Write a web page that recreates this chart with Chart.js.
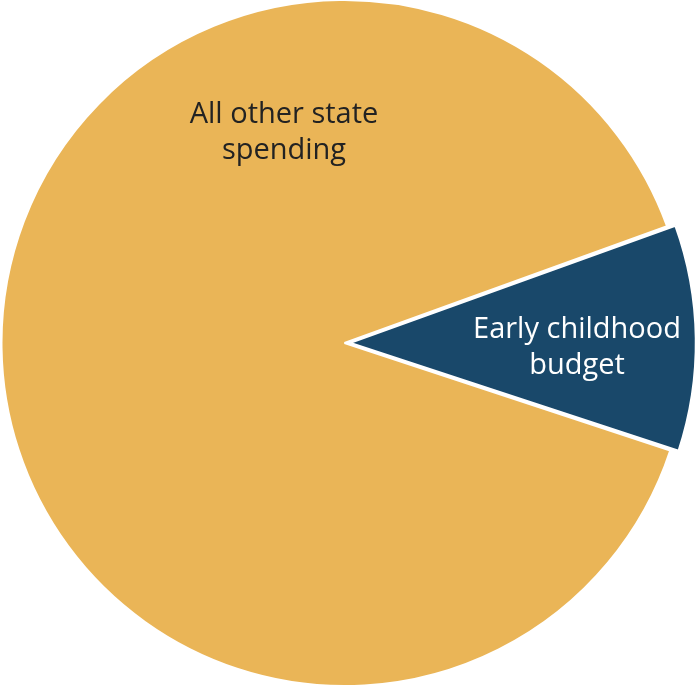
<!DOCTYPE html>
<html>
<head>
<meta charset="utf-8">
<script src="https://cdn.jsdelivr.net/npm/chart.js@4/dist/chart.umd.min.js"></script>
<style>
  html, body { margin: 0; padding: 0; background: #fff; }
  #wrap { width: 698px; height: 686px; position: relative; }
</style>
</head>
<body>
<div id="wrap"><canvas id="pie"></canvas></div>
<script>
  var categories = ['Early childhood budget', 'All other state spending'];
  var shares = [10.6, 89.4];
  var sliceColors = ['#19486a', '#eab557'];
  var labelLines = [['Early childhood', 'budget'], ['All other state', 'spending']];

  // text labels placed inside slices
  var sliceLabels = {
    id: 'sliceLabels',
    afterDatasetsDraw: function (chart) {
      var ctx = chart.ctx;
      var pos = [{ x: 577, y: 330, color: '#ffffff' }, { x: 284, y: 115, color: '#222222' }];
      ctx.save();
      ctx.font = '29px "Open Sans"';
      ctx.textAlign = 'center';
      ctx.textBaseline = 'middle';
      labelLines.forEach(function (lines, i) {
        ctx.fillStyle = pos[i].color;
        lines.forEach(function (t, j) {
          ctx.fillText(t, pos[i].x, pos[i].y + j * 36);
        });
      });
      ctx.restore();
    }
  };

  new Chart(document.getElementById('pie'), {
    type: 'pie',
    data: {
      labels: categories,
      datasets: [{
        data: shares,
        backgroundColor: sliceColors,
        borderColor: '#ffffff',
        borderWidth: 2,
        offset: [24, 0], // chart.js draws a quarter of this => ~6px
        hoverOffset: 0
      }]
    },
    options: {
      responsive: true,
      maintainAspectRatio: false,
      animation: false,
      rotation: 70.1,
      radius: 343,
      layout: { padding: { left: 0, right: 9, top: 0, bottom: 0 } },
      plugins: { legend: { display: false }, tooltip: { enabled: false } }
    },
    plugins: [sliceLabels]
  });
</script>
</body>
</html>
